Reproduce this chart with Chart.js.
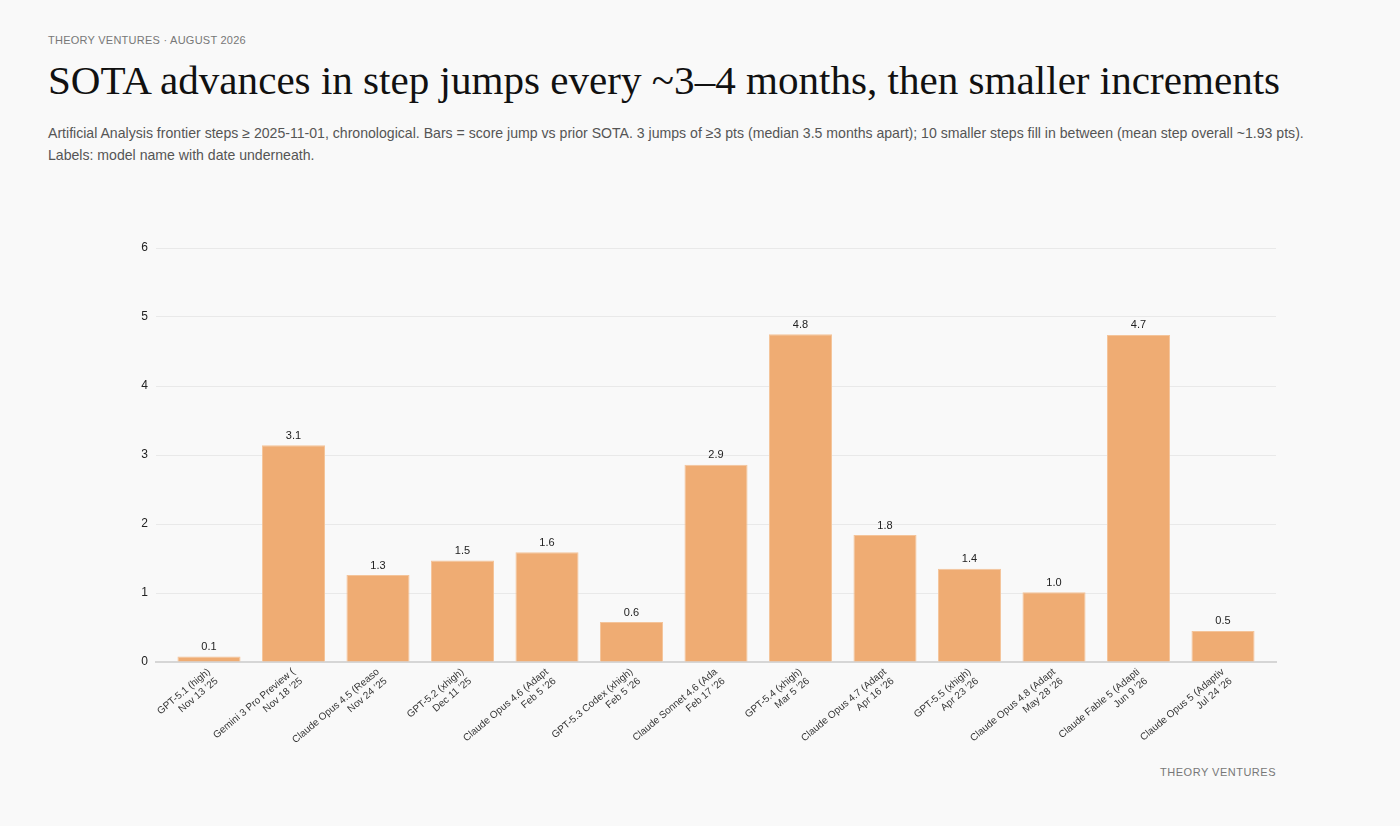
<!DOCTYPE html>
<html>
<head>
<meta charset="utf-8">
<script src="https://cdn.jsdelivr.net/npm/chart.js@4.4.1/dist/chart.umd.min.js"></script>
<style>
  html, body { margin: 0; padding: 0; background: #f9f9f9; }
  body { width: 1400px; height: 826px; position: relative; overflow: hidden;
         font-family: "Liberation Sans", Arial, sans-serif; }
  .kicker { position: absolute; left: 48px; top: 33px; font-size: 11px; line-height: 14px;
            letter-spacing: 0.25px; color: #777; }
  h1 { position: absolute; left: 48px; top: 60px; margin: 0; font-family: "Liberation Serif", serif;
       font-weight: normal; font-size: 41.1px; line-height: 41px; color: #111; white-space: nowrap; }
  .sub { position: absolute; left: 48px; top: 122px; width: 1268px; margin: 0; font-size: 14.1px;
         line-height: 22px; color: #555; }
  .foot { position: absolute; right: 124px; top: 765px; font-size: 11px; line-height: 14px;
          letter-spacing: 0.5px; color: #777; }
  #wrap { position: absolute; left: 48px; top: 230px; width: 1232px; height: 532px; }
</style>
</head>
<body>
<div class="kicker">THEORY VENTURES · AUGUST 2026</div>
<h1>SOTA advances in step jumps every ~3–4 months, then smaller increments</h1>
<p class="sub">Artificial Analysis frontier steps ≥ 2025-11-01, chronological. Bars = score jump vs prior SOTA. 3 jumps of ≥3 pts (median 3.5 months apart); 10 smaller steps fill in between (mean step overall ~1.93 pts). Labels: model name with date underneath.</p>
<div class="foot">THEORY VENTURES</div>
<div id="wrap"><canvas id="steps"></canvas></div>
<script>
// model names as shown on the axis (already cut to 22 chars)
const models = ['GPT-5.1 (high)', 'Gemini 3 Pro Preview (', 'Claude Opus 4.5 (Reaso', 'GPT-5.2 (xhigh)',
    'Claude Opus 4.6 (Adapt', 'GPT-5.3 Codex (xhigh)', 'Claude Sonnet 4.6 (Ada', 'GPT-5.4 (xhigh)',
    'Claude Opus 4.7 (Adapt', 'GPT-5.5 (xhigh)', 'Claude Opus 4.8 (Adapt', 'Claude Fable 5 (Adapti',
    'Claude Opus 5 (Adaptiv'];
const dates = ['Nov 13 ’25', 'Nov 18 ’25', 'Nov 24 ’25', 'Dec 11 ’25', 'Feb 5 ’26', 'Feb 5 ’26',
    'Feb 17 ’26', 'Mar 5 ’26', 'Apr 16 ’26', 'Apr 23 ’26', 'May 28 ’26', 'Jun 9 ’26', 'Jul 24 ’26'];
// score jump vs prior SOTA
const jumps = [0.08, 3.14, 1.26, 1.47, 1.59, 0.58, 2.86, 4.75, 1.84, 1.35, 1.01, 4.74, 0.45];
const yMax = 6;

const labels = models.map((m, i) => [m, dates[i]]);
const points = jumps.map((v, i) => ({ x: i, y: v }));

// value above each bar
const barValues = {
    id: 'barValues',
    afterDatasetsDraw(chart) {
        const ctx = chart.ctx;
        const meta = chart.getDatasetMeta(0);
        ctx.save();
        ctx.font = '11px "Liberation Sans", Arial, sans-serif';
        ctx.fillStyle = '#222';
        ctx.textAlign = 'center';
        ctx.textBaseline = 'bottom';
        meta.data.forEach(function(bar, i){
            ctx.fillText(jumps[i].toFixed(1), bar.x, bar.y - 4);
        });
        ctx.restore();
    }
};

const ctx = document.getElementById('steps');
const stepChart = new Chart(ctx, {
    type: 'bar',
    data: {
        datasets: [{
            label: 'Step',
            data: points,
            backgroundColor: '#efac73',
            borderColor: '#f4c49a',
            borderWidth: 1,
            categoryPercentage: 0.8,
            barPercentage: 0.933
        }]
    },
    options: {
        responsive: true,
        maintainAspectRatio: false,
        animation: false,
        layout: { padding: { top: 18, right: 4, bottom: 0, left: 0 } },
        scales: {
            x: {
                type: 'linear',
                offset: false,
                min: -0.627,
                max: labels.length - 1 + 0.627,
                grid: { display: false, drawTicks: false },
                border: { display: true, color: '#d6d6d6', width: 2 },
                afterBuildTicks(scale) {
                    scale.ticks = labels.map((l, i) => ({ value: i }));
                },
                ticks: {
                    color: '#333',
                    font: { family: '"Liberation Sans", Arial, sans-serif', size: 10 },
                    minRotation: 40,
                    maxRotation: 40,
                    autoSkip: false,
                    padding: 4,
                    callback: function(value){ return labels[value]; }
                },
                afterFit(scale) { scale.height = 100; }
            },
            y: {
                min: 0,
                max: yMax,
                grid: { color: '#e9e9e9', drawTicks: false },
                border: { display: false },
                ticks: {
                    stepSize: 1,
                    color: '#222',
                    padding: 8,
                    font: { family: '"Liberation Sans", Arial, sans-serif', size: 12 }
                },
                afterFit(scale) { scale.width = 108; }
            }
        },
        plugins: {
            legend: { display: false },
            tooltip: { enabled: false }
        }
    },
    plugins: [barValues]
});
</script>
</body>
</html>
